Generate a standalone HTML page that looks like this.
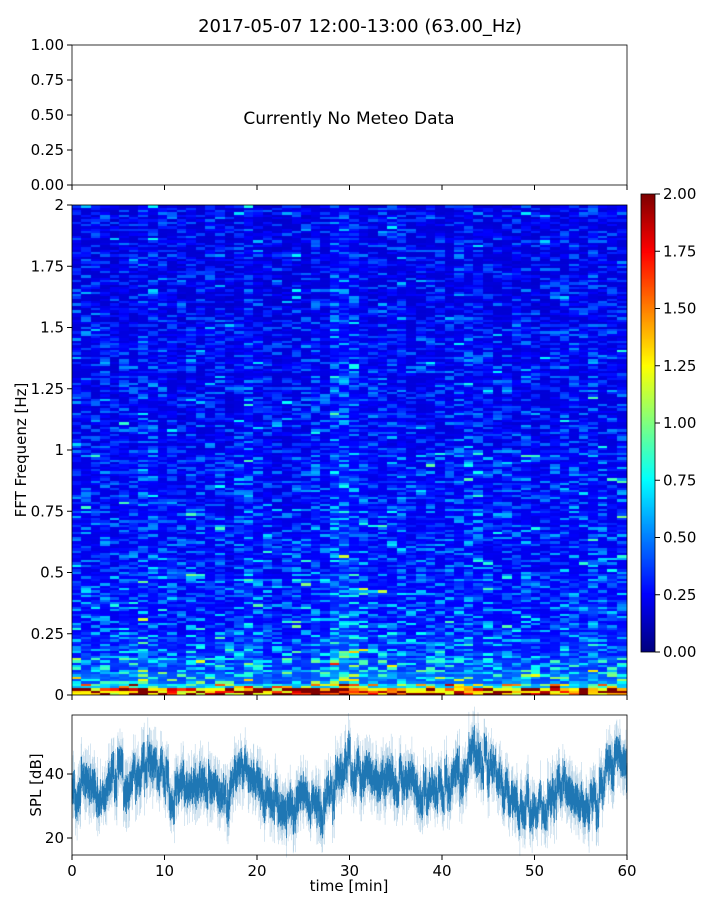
<!DOCTYPE html>
<html><head><meta charset="utf-8">
<style>
body{margin:0;background:#fff;}
#wrap{position:relative;width:720px;height:900px;font-family:"DejaVu Sans","Liberation Sans",sans-serif;}
svg text{font-family:"DejaVu Sans","Liberation Sans",sans-serif;}
canvas{position:absolute;}
</style></head>
<body>
<div id="wrap">
<canvas id="spec" width="555" height="490" style="left:72px;top:205px"></canvas>
<canvas id="cbar" width="14" height="458" style="left:641px;top:194px"></canvas>
<svg id="svg" width="720" height="900" style="position:absolute;left:0;top:0"></svg>
</div>
<script>
// ---- data ----
const splMinutes = [0,1,2,3,4,5,6,7,8,9,10,11,12,13,14,15,16,17,18,19,20,21,22,23,24,25,26,27,28,29,30,31,32,33,34,35,36,37,38,39,40,41,42,43,44,45,46,47,48,49,50,51,52,53,54,55,56,57,58,59,60];
const splMean = [33,36,34,32,36,40,38,42,42,41,40,32,38,36,40,36,34,33,43,40,36,34,32,30,28,32,30,28,34,42,44,40,42,38,40,36,40,38,34,38,36,34,40,44,46,44,40,34,32,30,28,30,34,38,36,30,32,32,42,44,40];
const specTimeFactor = [1.0,1.0,0.95,1.0,0.9,1.05,1.0,1.1,1.05,1.0,1.0,0.9,1.0,0.95,1.0,1.0,0.9,1.0,1.15,1.0,0.95,0.9,0.95,1.0,0.95,1.1,1.0,1.3,1.35,1.2,1.1,1.0,1.05,1.0,1.1,1.0,1.0,1.05,1.0,1.0,1.05,1.1,1.05,1.0,1.0,1.0,0.95,1.05,0.95,0.95,1.0,1.0,1.05,1.0,1.1,1.0,1.0,1.05];
const specFreqBands = [0,0.025,0.05,0.1,0.15,0.25,0.5,0.75,1.0,1.5,2.0];
const specBandLevel = [2.4,1.2,0.8,0.65,0.55,0.47,0.42,0.4,0.36,0.33];
const cbarTicks = [0,0.25,0.5,0.75,1.0,1.25,1.5,1.75,2.0];
const specYTicks = [0,0.25,0.5,0.75,1,1.25,1.5,1.75,2];
const specYLabels = ["0","0.25","0.5","0.75","1","1.25","1.5","1.75","2"];
const timeTicks = [0,10,20,30,40,50,60];
const topTicks = [0,0.25,0.5,0.75,1.0];
const splTicks = [20,40];

function jet(v){v=Math.max(0,Math.min(1,v));
 const r=Math.max(0,Math.min(1,1.5-Math.abs(4*v-3))),g=Math.max(0,Math.min(1,1.5-Math.abs(4*v-2))),b=Math.max(0,Math.min(1,1.5-Math.abs(4*v-1)));
 return [r*255|0,g*255|0,b*255|0];}
function hash(a,b){let h=(a*374761393+b*668265263)^0x5bd1e995;h=(h^(h>>>13))*1274126177;h=h^(h>>>16);return ((h>>>0)%10000)/10000;}

const X0=72,X1=627;
const xT=t=>X0+(t/60)*(X1-X0);
const ySpec=f=>695-(f/2)*490;
(function(){
 const c=document.getElementById('spec').getContext('2d');
 const nC=specTimeFactor.length,nR=210;
 for(let j=0;j<nR;j++){
  const f=(j+0.5)/nR*2;
  let lvl=specBandLevel[specBandLevel.length-1];
  for(let k=0;k<specBandLevel.length;k++){if(f>=specFreqBands[k]&&f<specFreqBands[k+1]){lvl=specBandLevel[k];break;}}
  for(let i=0;i<nC;i++){
   const n=hash(i,j),n2=hash(j*7,i*3);
   let v=lvl*specTimeFactor[i]*(0.5+0.9*n*n*n+(n2>0.96?0.9:0));
   const [r,g,b]=jet(v/2);
   c.fillStyle=`rgb(${r},${g},${b})`;
   const x=Math.floor(xT(i*60/nC)-X0),x2=Math.ceil(xT((i+1)*60/nC)-X0);
   const y=Math.floor(ySpec((j+1)/nR*2)-205),y2=Math.ceil(ySpec(j/nR*2)-205);
   c.fillRect(x,y,x2-x,y2-y);
  }
 }
 const cb=document.getElementById('cbar').getContext('2d');
 for(let y=0;y<458;y++){const[r,g,b]=jet(1-y/457);cb.fillStyle=`rgb(${r},${g},${b})`;cb.fillRect(0,y,14,1);}
})();

const svg=document.getElementById('svg');const NS='http://www.w3.org/2000/svg';
function el(tag,attrs,parent){const e=document.createElementNS(NS,tag);for(const k in attrs)e.setAttribute(k,attrs[k]);(parent||svg).appendChild(e);return e;}
function txt(s,x,y,anchor,size,parent){const t=el('text',{x:x,y:y,'text-anchor':anchor,'font-size':size,fill:'#000'},parent);t.textContent=s;return t;}

const title=txt('2017-05-07 12:00-13:00 (63.00_Hz)',360,32,'middle',18);



const topG=el('g',{});


el('rect',{x:72,y:45,width:555,height:140,fill:'none',stroke:'#000','stroke-width':0.8},topG);
topTicks.forEach(v=>{const y=185-v*140;el('line',{x1:67,x2:72,y1:y,y2:y,stroke:'#000'},topG);txt(v.toFixed(2),64,y+5,'end',15,topG);});
timeTicks.forEach(t=>{el('line',{x1:xT(t),x2:xT(t),y1:185,y2:190,stroke:'#000'},topG);});
const nm=txt('Currently No Meteo Data',349,124,'middle',17,topG);



const sG=el('g',{});


el('rect',{x:72,y:205,width:555,height:490,fill:'none',stroke:'#000','stroke-width':0.8},sG);
specYTicks.forEach((v,i)=>{const y=ySpec(v);el('line',{x1:67,x2:72,y1:y,y2:y,stroke:'#000'},sG);txt(specYLabels[i],64,y+5,'end',15,sG);});
timeTicks.forEach(t=>{el('line',{x1:xT(t),x2:xT(t),y1:695,y2:700,stroke:'#000'},sG);});
const yl=txt('FFT Frequenz [Hz]',0,0,'middle',15,sG);
yl.setAttribute('transform','translate(26,450) rotate(-90)');



const cG=el('g',{});


el('rect',{x:641,y:194,width:14,height:458,fill:'none',stroke:'#000','stroke-width':0.8},cG);
cbarTicks.forEach(v=>{const y=652-v/2*458;el('line',{x1:655,x2:660,y1:y,y2:y,stroke:'#000'},cG);txt(v.toFixed(2),663,y+5,'start',15,cG);});

const ySpl=v=>774-(v-40)*3.2;
const pG=el('g',{});


const N=1100;
let dS='',dC='';
for(let k=0;k<N;k++){
 const t=k/(N-1)*60;
 const i=Math.min(59,Math.floor(t)),fr=t-i;
 const wig=(hash(Math.floor(k/6),5)-0.5)*9+(hash(k,3)-0.5)*4;
 const m=splMean[i]*(1-fr)+splMean[i+1]*fr+wig;
 const a=hash(k,11),b=hash(k,17);
 const x=xT(t).toFixed(1);
 dS+=`M${x} ${ySpl(m+3+a*9).toFixed(1)}V${ySpl(m-3-b*9).toFixed(1)}`;
 dC+=`M${x} ${ySpl(m+2.5+a*3).toFixed(1)}V${ySpl(m-2.5-b*3).toFixed(1)}`;
}
const sp=el('path',{d:dS,stroke:'#1f77b4','stroke-width':0.6,'stroke-opacity':0.3,fill:'none'},pG);


const cp=el('path',{d:dC,stroke:'#1f77b4','stroke-width':0.8,fill:'none'},pG);


el('rect',{x:72,y:715,width:555,height:140,fill:'none',stroke:'#000','stroke-width':0.8},pG);
splTicks.forEach(v=>{const y=ySpl(v);el('line',{x1:67,x2:72,y1:y,y2:y,stroke:'#000'},pG);txt(String(v),64,y+5,'end',15,pG);});
timeTicks.forEach(t=>{el('line',{x1:xT(t),x2:xT(t),y1:855,y2:860,stroke:'#000'},pG);txt(String(t),xT(t),876,'middle',15,pG);});
const xl=txt('time [min]',349,891,'middle',15,pG);


const sl=txt('SPL [dB]',0,0,'middle',15,pG);
sl.setAttribute('transform','translate(41,785) rotate(-90)');


</script>
</body></html>
